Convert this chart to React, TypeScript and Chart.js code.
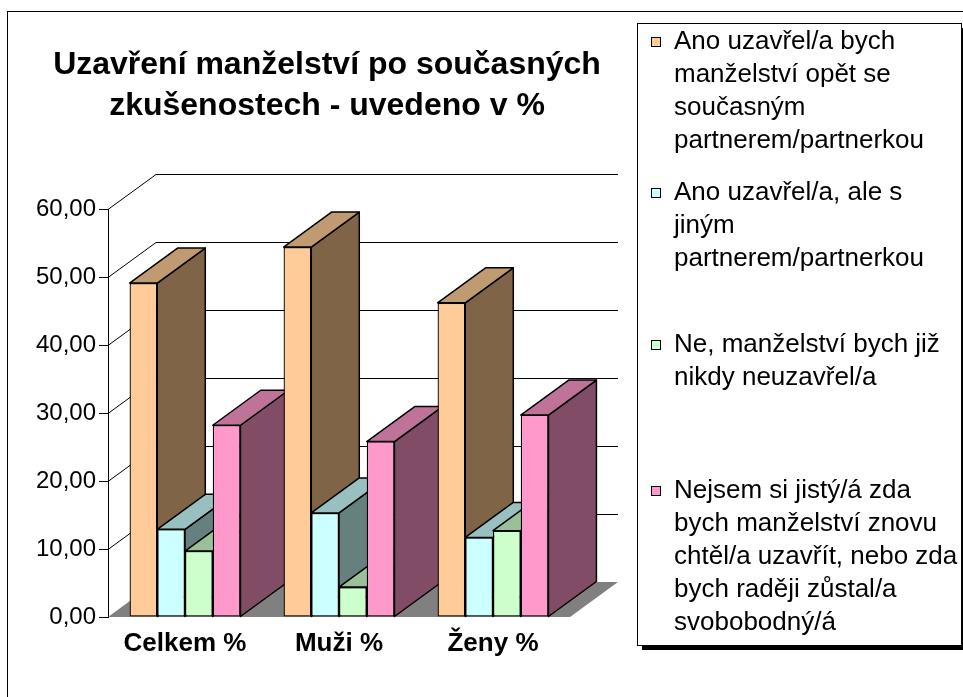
import React, { useEffect, useRef } from 'react';
import { Chart, registerables } from 'chart.js';

Chart.register(...registerables);

// ---- data ----
const categories = ['Celkem %', 'Muži %', 'Ženy %'];
const seriesNames = [
  'Ano uzavřel/a bych manželství opět se současným partnerem/partnerkou',
  'Ano uzavřel/a, ale s jiným partnerem/partnerkou',
  'Ne, manželství bych již nikdy neuzavřel/a',
  'Nejsem si jistý/á zda bych manželství znovu chtěl/a uzavřít, nebo zda bych raději zůstal/a svobobodný/á',
];
const legendLines = [
  ['Ano uzavřel/a bych', 'manželství opět se', 'současným', 'partnerem/partnerkou'],
  ['Ano uzavřel/a, ale s', 'jiným', 'partnerem/partnerkou'],
  ['Ne, manželství bych již', 'nikdy neuzavřel/a'],
  ['Nejsem si jistý/á zda', 'bych manželství znovu', 'chtěl/a uzavřít, nebo zda', 'bych raději zůstal/a', 'svobobodný/á'],
];
const anoStejny = [49.1, 54.4, 46.2];
const anoJiny = [12.9, 15.3, 11.7];
const neNikdy = [9.7, 4.4, 12.7];
const nejisty = [28.2, 25.8, 29.7];
const yTicks = [0, 10, 20, 30, 40, 50, 60];
const titleLines = ['Uzavření manželství po současných', 'zkušenostech - uvedeno v %'];

// ---- styles ----
const frontColors = ['#FFCC99', '#CCFFFF', '#CCFFCC', '#FF99CC'];
const topColors = ['#C09A70', '#99C0C0', '#99C099', '#C07399'];
const sideColors = ['#806448', '#668080', '#668066', '#804C66'];
const FONT = '"Liberation Sans", Arial, sans-serif';
const DX = 48;
const DY = -35;

const threeD = {
  id: 'threeD',
  beforeDraw(chart: any) {
    const { ctx } = chart;
    ctx.save();
    ctx.fillStyle = '#fff';
    ctx.fillRect(0, 0, chart.width, chart.height);
    ctx.strokeStyle = '#000';
    ctx.lineWidth = 1;
    ctx.strokeRect(7.5, 11.5, 1200, 1200);
    ctx.restore();
  },
  beforeDatasetsDraw(chart: any) {
    const { ctx, chartArea: a, scales } = chart;
    const ys = scales.y;
    ctx.save();
    // floor
    ctx.fillStyle = '#808080';
    ctx.beginPath();
    ctx.moveTo(a.left, a.bottom);
    ctx.lineTo(a.right, a.bottom);
    ctx.lineTo(a.right + DX, a.bottom + DY);
    ctx.lineTo(a.left + DX, a.bottom + DY);
    ctx.closePath();
    ctx.fill();
    // wall gridlines
    ctx.strokeStyle = '#000';
    ctx.lineWidth = 1;
    for (const v of yTicks) {
      if (v === 0) continue;
      const py = Math.round(ys.getPixelForValue(v)) + 0.5;
      ctx.beginPath();
      ctx.moveTo(a.left, py);
      ctx.lineTo(a.left + DX, py + DY);
      ctx.lineTo(a.right + DX, py + DY);
      ctx.stroke();
    }
    // bar sides and tops, painted left to right
    const bars: any[] = [];
    chart.data.datasets.forEach((_ds: any, di: number) => {
      const meta = chart.getDatasetMeta(di);
      meta.data.forEach((el: any) => {
        const p = el.getProps(['x', 'y', 'base', 'width'], true);
        bars.push({ x: p.x, y: p.y, base: p.base, width: p.width, di });
      });
    });
    bars.sort((p, q) => p.x - q.x);
    ctx.lineWidth = 1.5;
    ctx.lineJoin = 'round';
    for (const b of bars) {
      const l = b.x - b.width / 2;
      const r = b.x + b.width / 2;
      const t = b.y;
      const bot = b.base;
      ctx.fillStyle = sideColors[b.di];
      ctx.beginPath();
      ctx.moveTo(r, t);
      ctx.lineTo(r + DX, t + DY);
      ctx.lineTo(r + DX, bot + DY);
      ctx.lineTo(r, bot);
      ctx.closePath();
      ctx.fill();
      ctx.stroke();
      ctx.fillStyle = topColors[b.di];
      ctx.beginPath();
      ctx.moveTo(l, t);
      ctx.lineTo(l + DX, t + DY);
      ctx.lineTo(r + DX, t + DY);
      ctx.lineTo(r, t);
      ctx.closePath();
      ctx.fill();
      ctx.stroke();
    }
    ctx.restore();
  },
  afterDraw(chart: any) {
    const { ctx } = chart;
    ctx.save();
    // title
    ctx.fillStyle = '#000';
    ctx.font = `bold 32px ${FONT}`;
    ctx.textAlign = 'center';
    ctx.textBaseline = 'middle';
    titleLines.forEach((s, i) => ctx.fillText(s, 327, 65 + i * 41));
    // legend box with shadow
    const lx = 637, ly = 23, lw = 324, lh = 622;
    ctx.fillStyle = '#000';
    ctx.fillRect(lx + 5, ly + 5, lw, lh);
    ctx.fillStyle = '#fff';
    ctx.fillRect(lx, ly, lw, lh);
    ctx.strokeStyle = '#000';
    ctx.lineWidth = 1;
    ctx.strokeRect(lx + 0.5, ly + 0.5, lw, lh);
    const starts = [42, 193, 345, 491];
    ctx.font = `26px ${FONT}`;
    ctx.textAlign = 'left';
    legendLines.forEach((lines, i) => {
      const y0 = starts[i];
      ctx.fillStyle = frontColors[i];
      ctx.fillRect(651, y0 - 5, 10, 10);
      ctx.strokeStyle = '#000';
      ctx.strokeRect(651.5, y0 - 4.5, 9, 9);
      ctx.fillStyle = '#000';
      lines.forEach((s, j) => ctx.fillText(s, 674, y0 + j * 33));
    });
    ctx.restore();
  },
};

export default function App() {
  const ref = useRef<HTMLCanvasElement>(null);
  useEffect(() => {
    if (!ref.current) return;
    const series = [anoStejny, anoJiny, neNikdy, nejisty];
    const chart = new Chart(ref.current, {
      type: 'bar',
      data: {
        labels: categories,
        datasets: series.map((d, i) => ({
          label: seriesNames[i],
          data: d,
          backgroundColor: frontColors[i],
          borderColor: '#000',
          borderWidth: 1.3,
          borderSkipped: false,
          categoryPercentage: 0.72,
          barPercentage: 1.0,
        })),
      },
      options: {
        responsive: false,
        animation: false,
        devicePixelRatio: 1,
        layout: { padding: { left: 0, right: 393, top: 209, bottom: 0 } },
        plugins: { legend: { display: false }, title: { display: false }, tooltip: { enabled: false } },
        scales: {
          x: {
            grid: { display: false, drawTicks: false },
            border: { display: false },
            ticks: { color: '#000', font: { family: FONT, size: 26, weight: 'bold' }, padding: 11 },
            afterFit: (s: any) => { s.height = 80; },
          },
          y: {
            min: 0,
            max: 60,
            ticks: {
              stepSize: 10,
              color: '#000',
              padding: 3,
              font: { family: FONT, size: 24 },
              callback: (v: any) => Number(v).toFixed(2).replace('.', ','),
            },
            grid: { drawOnChartArea: false, drawTicks: true, tickLength: 9, color: '#000' },
            border: { display: true, color: '#000', width: 1 },
            afterFit: (s: any) => { s.width = 108; },
          },
        },
      },
      plugins: [threeD],
    });
    return () => chart.destroy();
  }, []);
  return (
    <div style={{ position: 'absolute', left: 0, top: 0, width: 963, height: 697 }}>
      <canvas ref={ref} width={963} height={697} />
    </div>
  );
}
